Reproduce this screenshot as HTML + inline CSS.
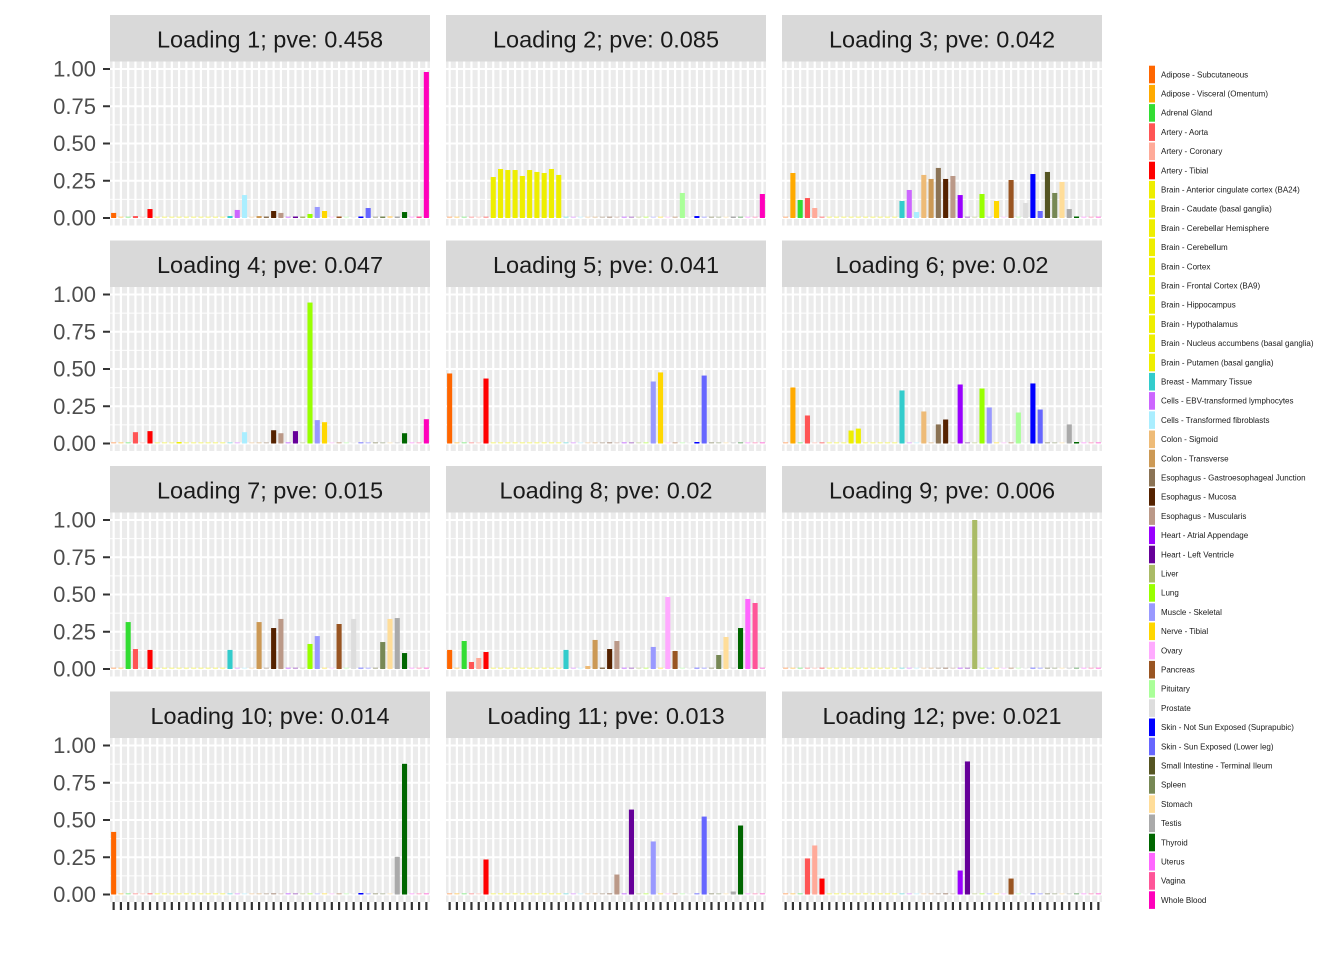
<!DOCTYPE html>
<html><head><meta charset="utf-8"><style>
html,body{margin:0;padding:0;background:#fff;}
svg{display:block;}
</style></head><body>
<svg id="s" width="1344" height="960" xmlns="http://www.w3.org/2000/svg" font-family="Liberation Sans, Arial, sans-serif"></svg>
<script>
const names=["Adipose - Subcutaneous","Adipose - Visceral (Omentum)","Adrenal Gland","Artery - Aorta","Artery - Coronary","Artery - Tibial","Brain - Anterior cingulate cortex (BA24)","Brain - Caudate (basal ganglia)","Brain - Cerebellar Hemisphere","Brain - Cerebellum","Brain - Cortex","Brain - Frontal Cortex (BA9)","Brain - Hippocampus","Brain - Hypothalamus","Brain - Nucleus accumbens (basal ganglia)","Brain - Putamen (basal ganglia)","Breast - Mammary Tissue","Cells - EBV-transformed lymphocytes","Cells - Transformed fibroblasts","Colon - Sigmoid","Colon - Transverse","Esophagus - Gastroesophageal Junction","Esophagus - Mucosa","Esophagus - Muscularis","Heart - Atrial Appendage","Heart - Left Ventricle","Liver","Lung","Muscle - Skeletal","Nerve - Tibial","Ovary","Pancreas","Pituitary","Prostate","Skin - Not Sun Exposed (Suprapubic)","Skin - Sun Exposed (Lower leg)","Small Intestine - Terminal Ileum","Spleen","Stomach","Testis","Thyroid","Uterus","Vagina","Whole Blood"];
const cols=["#FF6600","#FFAA00","#33DD33","#FF5555","#FFAA99","#FF0000","#EEEE00","#EEEE00","#EEEE00","#EEEE00","#EEEE00","#EEEE00","#EEEE00","#EEEE00","#EEEE00","#EEEE00","#33CCCC","#CC66FF","#AAEEFF","#EEBB77","#CC9955","#8B7355","#552200","#BB9988","#9900FF","#660099","#AABB66","#99FF00","#9999FF","#FFD700","#FFAAFF","#995522","#AAFF99","#DDDDDD","#0000FF","#6666FF","#555522","#778855","#FFDD99","#AAAAAA","#006600","#FF66FF","#FF5599","#FF00BB"];
const titles=["0.458","0.085","0.042","0.047","0.041","0.02","0.015","0.02","0.006","0.014","0.013","0.021"];
const D=[
{0:.034,3:.013,5:.06,16:.013,17:.054,18:.154,20:.013,21:.007,22:.047,23:.034,25:.007,26:.007,27:.027,28:.074,29:.047,31:.007,34:.007,35:.067,37:.007,38:.013,39:.007,40:.04,42:.007,43:.98},
{6:.275,7:.329,8:.322,9:.322,10:.282,11:.322,12:.309,13:.302,14:.329,15:.289,32:.168,34:.013,39:.007,43:.161},
{1:.302,2:.121,3:.134,4:.067,16:.114,17:.188,18:.04,19:.289,20:.262,21:.336,22:.262,23:.282,24:.154,27:.161,29:.114,31:.255,33:.101,34:.295,35:.047,36:.309,37:.168,38:.242,39:.06,40:.007},
{3:.076,5:.083,9:.009,18:.076,22:.089,23:.069,25:.083,27:.946,28:.157,29:.143,40:.069,43:.163},
{0:.47,5:.436,28:.416,29:.477,34:.007,35:.456},
{1:.376,3:.188,9:.087,10:.1,16:.356,19:.215,21:.128,22:.161,24:.396,27:.369,28:.242,32:.208,34:.403,35:.228,39:.128,40:.007},
{2:.315,3:.134,5:.128,16:.128,20:.315,22:.275,23:.336,27:.168,28:.221,31:.302,33:.336,37:.181,38:.336,39:.342,40:.107},
{0:.128,2:.188,3:.047,4:.074,5:.114,16:.128,19:.02,20:.195,21:.01,22:.134,23:.188,28:.148,30:.483,31:.121,37:.094,38:.215,40:.275,41:.47,42:.443},
{26:1.0},
{0:.42,34:.007,39:.253,40:.877},
{5:.235,23:.134,25:.57,28:.356,35:.523,39:.02,40:.463},
{3:.242,4:.329,5:.107,24:.161,25:.893,31:.107}
];
let h='';
const X0=[110,446,782],W=320,sl=W/44,S=149;
for(let p=0;p<12;p++){
 const r=Math.floor(p/3),c=p%3,x0=X0[c],z=218+225.5*r;
 const top=z-156.5,bot=z+7.5;
 h+=`<rect x="${x0}" y="${15+225.5*r}" width="${W}" height="${top-15-225.5*r}" fill="#D9D9D9"/>`;
 h+=`<text x="${x0+W/2}" y="${47.5+225.5*r}" font-size="23.5" fill="#1a1a1a" text-anchor="middle">Loading ${p+1}; pve: ${titles[p]}</text>`;
 h+=`<rect x="${x0}" y="${top}" width="${W}" height="${bot-top}" fill="#EBEBEB"/>`;
 for(let k=0;k<8;k++){const y=z-(k*0.25+0.125)*S; if(y>top) h+=`<line x1="${x0}" x2="${x0+W}" y1="${y}" y2="${y}" stroke="#fff" stroke-width="1"/>`;}
 for(let k=0;k<=4;k++){const y=z-k*0.25*S; h+=`<line x1="${x0}" x2="${x0+W}" y1="${y}" y2="${y}" stroke="#fff" stroke-width="2"/>`;}
 for(let i=0;i<44;i++){const cx=x0+sl*(i+.5); h+=`<line x1="${cx}" x2="${cx}" y1="${top}" y2="${bot}" stroke="#fff" stroke-width="2.2"/>`;}
 for(let i=0;i<44;i++){const cx=x0+sl*(i+.5),bw=5.1;const v=D[p][i];
  if(v!==undefined){const hh=Math.max(v*S,1.5);h+=`<rect x="${cx-bw/2}" y="${z-hh}" width="${bw}" height="${hh}" fill="${cols[i]}"/>`;}
  else h+=`<rect x="${cx-bw/2}" y="${z-1.5}" width="${bw}" height="1.5" fill="${cols[i]}" opacity="0.35"/>`;}
 if(c==0){for(let k=0;k<=4;k++){const y=z-k*0.25*S;
  h+=`<line x1="103" x2="110" y1="${y}" y2="${y}" stroke="#333" stroke-width="2"/>`;
  h+=`<text x="96" y="${y+7.5}" font-size="22" fill="#4d4d4d" text-anchor="end">${(k*0.25).toFixed(2)}</text>`;}}
 if(r==3){for(let i=0;i<44;i++){const cx=x0+sl*(i+.5);h+=`<line x1="${cx}" x2="${cx}" y1="${bot}" y2="${bot+8}" stroke="#333" stroke-width="2.2"/>`;}}
}
for(let i=0;i<44;i++){const y=74.5+i*19.2;
 h+=`<rect x="1149" y="${y-8.8}" width="6" height="17.6" fill="${cols[i]}"/>`;
 h+=`<text x="1161" y="${y+2.8}" font-size="8" fill="#1a1a1a">${names[i]}</text>`;}
document.getElementById('s').innerHTML=h;
</script>
</body></html>
